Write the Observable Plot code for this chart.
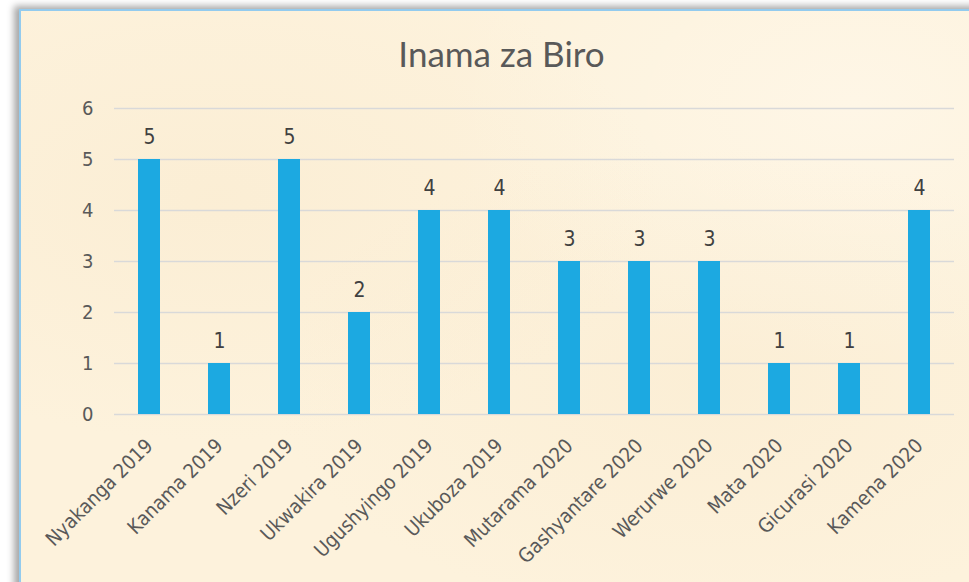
<!DOCTYPE html>
<html>
<head>
<meta charset="utf-8">
<script src="https://cdn.jsdelivr.net/npm/d3@7"></script>
<script src="https://cdn.jsdelivr.net/npm/@observablehq/plot@0.6"></script>
<style>
  html, body { margin: 0; padding: 0; background: #ffffff; width: 969px; height: 582px; overflow: hidden; }
  #frame {
    position: absolute; left: 19px; top: 9px; width: 980px; height: 620px;
    background-color: #fdf2dc;
    background-image:
      radial-gradient(ellipse at 20% 30%, rgba(245,225,190,0.25), rgba(0,0,0,0) 40%),
      radial-gradient(ellipse at 70% 60%, rgba(245,225,190,0.22), rgba(0,0,0,0) 45%),
      radial-gradient(ellipse at 85% 15%, rgba(255,250,240,0.5), rgba(0,0,0,0) 35%);
    border-left: 2px solid #93cbee; border-top: 2px solid #93cbee;
    box-shadow: -5px -3px 7px rgba(0,0,0,0.35);
  }
  #title {
    position: absolute; left: 0; top: 35px; width: 1003px; text-align: center;
    font-family: Lato, "Open Sans", sans-serif; font-size: 35px; line-height: 36px; color: #595959;
  }
  #chart { position: absolute; left: 0; top: 0; }
</style>
</head>
<body>
<div id="frame"></div>
<div id="title">Inama za Biro</div>
<div id="chart"></div>
<script>
const months = ["Nyakanga 2019","Kanama 2019","Nzeri 2019","Ukwakira 2019","Ugushyingo 2019","Ukuboza 2019","Mutarama 2020","Gashyantare 2020","Werurwe 2020","Mata 2020","Gicurasi 2020","Kamena 2020"];
const values = [5,1,5,2,4,4,3,3,3,1,1,4];
const yTicks = [0,1,2,3,4,5,6];

const data = months.map((m, i) => ({month: m, value: values[i]}));

const chart = Plot.plot({
  width: 969,
  height: 582,
  marginLeft: 114,
  marginRight: 15,
  marginTop: 108,
  marginBottom: 168,
  style: {background: "transparent", fontFamily: "'DejaVu Sans Condensed', 'DejaVu Sans', sans-serif", fontStretch: "condensed"},
  x: {domain: months, paddingInner: 0.69, paddingOuter: 0.345},
  y: {domain: [0, 6]},
  marks: [
    Plot.gridY(yTicks, {stroke: "#d9d9d9", strokeOpacity: 1, strokeWidth: 1.5}),
    Plot.barY(data, {x: "month", y: "value", fill: "#1ca9e1"}),
    Plot.text(data, {x: "month", y: "value", text: d => String(d.value), dy: -16, lineAnchor: "bottom", fontSize: 21, fill: "#404040"}),
    Plot.axisY(yTicks, {tickSize: 0, tickPadding: 21, fontSize: 20, fill: "#595959", label: null, tickFormat: d3.format("d")}),
    Plot.axisX({tickSize: 0, tickPadding: 28, tickRotate: -45, fontSize: 20, fill: "#595959", label: null})
  ]
});
document.getElementById("chart").appendChild(chart);
</script>
</body>
</html>
